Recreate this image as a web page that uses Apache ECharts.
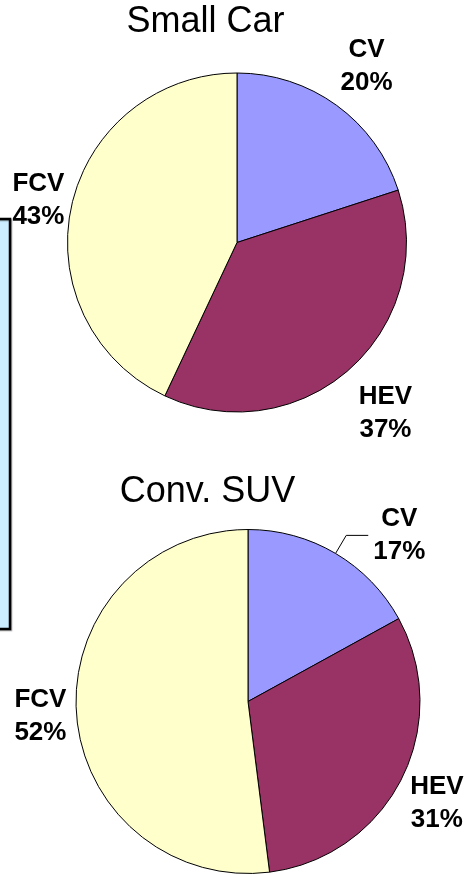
<!DOCTYPE html>
<html>
<head>
<meta charset="utf-8">
<script src="https://cdn.jsdelivr.net/npm/echarts@6/dist/echarts.min.js"></script>
<style>
  html, body { margin: 0; padding: 0; background: #fff; }
  #chart { width: 466px; height: 875px; }
</style>
</head>
<body>
<div id="chart"></div>
<script>
// ---- data ----
const categories = ['CV', 'HEV', 'FCV'];
const smallCarValues = [20, 37, 43];
const suvValues = [17, 31, 52];
const chartTitles = ['Small Car', 'Conv. SUV'];
const sliceColors = ['#9999FF', '#993366', '#FFFFCC'];

// label placement styling (distance beyond the rim, vertical nudge)
const smallCarLabelGap = [51, 55, 34];
const smallCarLabelDy = [2, 2, 2];
const suvLabelGap = [21, 40, 36];
const suvLabelDy = [0, 6, 2];

const FONT = "'Liberation Sans', Arial, sans-serif";

function buildData(values, gaps, leaderIndex) {
  return values.map((v, i) => ({
    name: categories[i],
    value: v,
    itemStyle: { color: sliceColors[i] },
    labelLine: i === leaderIndex
      ? { show: true, length: gaps[i], length2: 22, lineStyle: { color: '#000', width: 1 } }
      : { show: true, length: gaps[i], length2: 1, lineStyle: { color: 'rgba(0,0,0,0)', width: 0 } }
  }));
}

function makeLayout(leaderIndex, dys) {
  return function (params) {
    const pts = params.labelLinePoints;
    if (!pts) return {};
    if (params.dataIndex === leaderIndex) {
      const r = params.labelRect;
      return {
        x: r.x + r.width / 2,
        y: r.y + r.height / 2,
        align: 'center',
        verticalAlign: 'middle',
        labelLinePoints: pts
      };
    }
    return {
      x: pts[1][0],
      y: pts[1][1] + dys[params.dataIndex],
      align: 'center',
      verticalAlign: 'middle',
      labelLinePoints: pts
    };
  };
}

const labelStyle = {
  show: true,
  position: 'outside',
  formatter: '{b}\n{c}%',
  color: '#000',
  fontFamily: FONT,
  fontWeight: 'bold',
  fontSize: 26,
  lineHeight: 33
};

const chart = echarts.init(document.getElementById('chart'), null, { renderer: 'canvas' });

chart.setOption({
  backgroundColor: '#ffffff',
  animation: false,
  graphic: [
    {
      type: 'rect',
      z: 0,
      shape: { x: -20, y: 219, width: 30, height: 410 },
      style: {
        fill: '#CCECFF',
        stroke: '#000',
        lineWidth: 2.5,
        shadowColor: 'rgba(0,0,0,0.35)',
        shadowOffsetX: 1,
        shadowOffsetY: 1,
        shadowBlur: 1
      }
    },
    {
      type: 'text',
      z: 10,
      x: 205.5,
      y: 22,
      style: {
        text: chartTitles[0],
        fill: '#000',
        font: '36px ' + FONT,
        textAlign: 'center',
        textVerticalAlign: 'middle'
      }
    },
    {
      type: 'text',
      z: 10,
      x: 207.5,
      y: 492.5,
      style: {
        text: chartTitles[1],
        fill: '#000',
        font: '36px ' + FONT,
        textAlign: 'center',
        textVerticalAlign: 'middle'
      }
    }
  ],
  series: [
    {
      type: 'pie',
      center: [237, 242.5],
      radius: [0, 169.5],
      startAngle: 90,
      clockwise: true,
      avoidLabelOverlap: false,
      itemStyle: { borderColor: '#000', borderWidth: 1 },
      emphasis: { disabled: true },
      label: labelStyle,
      labelLayout: makeLayout(-1, smallCarLabelDy),
      data: buildData(smallCarValues, smallCarLabelGap, -1)
    },
    {
      type: 'pie',
      center: [248, 701.5],
      radius: [0, 172],
      startAngle: 90,
      clockwise: true,
      avoidLabelOverlap: false,
      itemStyle: { borderColor: '#000', borderWidth: 1 },
      emphasis: { disabled: true },
      label: labelStyle,
      labelLayout: makeLayout(0, suvLabelDy),
      data: buildData(suvValues, suvLabelGap, 0)
    }
  ]
});
</script>
</body>
</html>
